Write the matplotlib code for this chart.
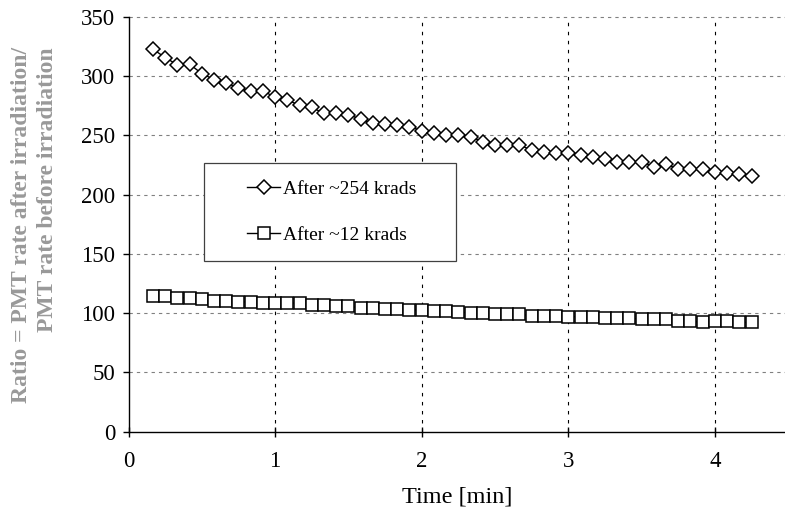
import matplotlib
matplotlib.use("Agg")
import matplotlib.pyplot as plt
from matplotlib.patches import Rectangle
from matplotlib.lines import Line2D

plt.rcParams['font.family'] = ['Liberation Serif', 'DejaVu Serif']
plt.rcParams['lines.scale_dashes'] = False

# time of each reading, seconds
time_s = [10, 15, 20, 25, 30, 35, 40, 45, 50, 55, 60, 65, 70, 75, 80, 85, 90, 95,
          100, 105, 110, 115, 120, 125, 130, 135, 140, 145, 150, 155, 160, 165,
          170, 175, 180, 185, 190, 195, 200, 205, 210, 215, 220, 225, 230, 235,
          240, 245, 250, 255]
time_min = [t / 60.0 for t in time_s]

ratio_254 = [322.7, 315.5, 309.5, 310.0, 302.0, 297.0, 294.5, 289.5, 287.0, 287.5,
             282.0, 279.5, 275.5, 273.5, 268.5, 269.0, 267.5, 263.5, 260.0, 259.4,
             258.6, 257.2, 253.8, 252.1, 250.0, 250.2, 248.8, 244.5, 241.7, 241.7,
             241.7, 237.5, 236.0, 234.7, 234.7, 233.3, 231.9, 230.0, 227.7, 227.7,
             227.7, 223.4, 225.7, 221.3, 221.3, 221.3, 219.3, 217.9, 217.3, 215.6]

ratio_12 = [114.4, 114.4, 112.9, 112.9, 111.8, 110.3, 110.3, 109.4, 109.4, 108.5,
            108.5, 108.5, 108.5, 107.1, 107.1, 105.7, 105.7, 104.4, 104.4, 103.3,
            103.3, 102.6, 102.6, 101.5, 102.2, 100.9, 100.2, 100.2, 99.2, 99.2,
            99.2, 97.8, 97.8, 97.8, 97.0, 97.0, 97.0, 95.6, 95.9, 95.9,
            94.8, 94.8, 94.8, 93.2, 93.2, 92.1, 93.2, 93.2, 92.1, 92.1]

labels = ["After ~254 krads", "After ~12 krads"]
x_ticks = [0, 1, 2, 3, 4]
y_ticks = [0, 50, 100, 150, 200, 250, 300, 350]

W, H = 785, 512
fig = plt.figure(figsize=(W / 100, H / 100), dpi=100)
ax = fig.add_axes([128.5 / W, 80.3 / H, 656.5 / W, 415 / H])

ax.set_xlim(0, 4.478)
ax.set_ylim(0, 350)

for yv in y_ticks[1:]:
    ax.axhline(yv, color='#808080', lw=0.8, linestyle=(0, (2.4, 2.9)), zorder=1,
               clip_on=False)
for xv in x_ticks[1:]:
    ax.axvline(xv, color='black', lw=0.8, linestyle=(0, (2.5, 4.0)), zorder=1)

D_SIZE = 7.6
S_SIZE = 8.6
ax.plot(time_min, ratio_254, color='black', lw=1.0, marker='D', markersize=D_SIZE,
        markerfacecolor='white', markeredgecolor='black', markeredgewidth=1.1, zorder=3)
ax.plot(time_min, ratio_12, color='black', lw=1.0, marker='s', markersize=S_SIZE,
        markerfacecolor='white', markeredgecolor='black', markeredgewidth=1.1, zorder=3)

for s in ['top', 'right']:
    ax.spines[s].set_visible(False)
for s in ['left', 'bottom']:
    ax.spines[s].set_linewidth(1.0)
    ax.spines[s].set_zorder(4)

ax.set_xticks(x_ticks)
ax.set_yticks(y_ticks)
ax.set_xticklabels([str(v) for v in x_ticks])
ax.set_yticklabels([str(v) for v in y_ticks])
ax.tick_params(axis='x', direction='inout', length=7.2, width=1.0, labelsize=16.5, pad=10)
ax.tick_params(axis='y', direction='out', length=4.0, width=1.0, labelsize=16.5, pad=5.6)

ax.set_xlabel("Time [min]", fontsize=17.5, labelpad=11)

fig.text(34.5 / W, 1 - 225 / H,
         "Ratio = PMT rate after irradiation/\nPMT rate before irradiation",
         rotation=90, ha='center', va='center', multialignment='right',
         color='#999999', fontsize=17, fontweight='bold', linespacing=1.3)

# legend box
fig.patches.append(Rectangle((204 / W, 1 - 260.7 / H), 252 / W, 97.7 / H,
                             transform=fig.transFigure, facecolor='white',
                             edgecolor='#404040', lw=0.9, zorder=4))
handles = [Line2D([], [], color='black', lw=1.0, marker='D', markersize=D_SIZE,
                  markerfacecolor='white', markeredgecolor='black', markeredgewidth=1.1),
           Line2D([], [], color='black', lw=1.0, marker='s', markersize=S_SIZE,
                  markerfacecolor='white', markeredgecolor='black', markeredgewidth=1.1)]
leg = fig.legend(handles, labels, loc='upper left',
                 bbox_to_anchor=(247 / W, 1 - 180 / H), bbox_transform=fig.transFigure,
                 frameon=False, fontsize=14, borderpad=0, borderaxespad=0,
                 handlelength=1.7, handletextpad=0.15, labelspacing=1.46)
leg.set_zorder(5)

fig.savefig("out.png", dpi=100)
